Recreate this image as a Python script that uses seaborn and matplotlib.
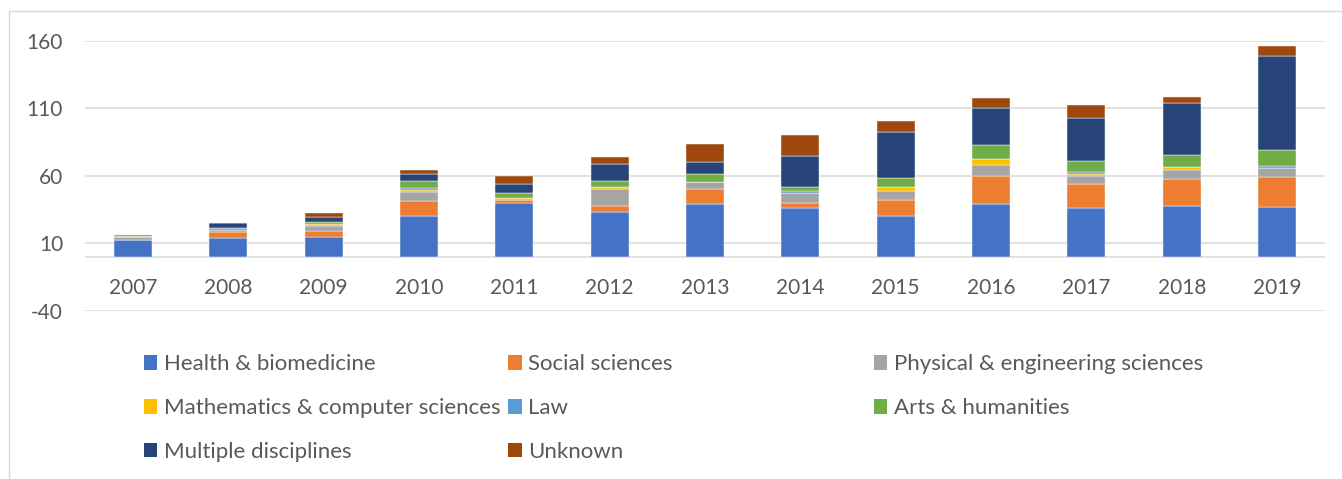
import pandas as pd
import numpy as np
import matplotlib
matplotlib.use("Agg")
import matplotlib.pyplot as plt
import seaborn as sns
from matplotlib.patches import Patch
from matplotlib.lines import Line2D

# values
years = [2007, 2008, 2009, 2010, 2011, 2012, 2013, 2014, 2015, 2016, 2017, 2018, 2019]
fields = ["Health & biomedicine", "Social sciences", "Physical & engineering sciences",
          "Mathematics & computer sciences", "Law", "Arts & humanities",
          "Multiple disciplines", "Unknown"]
health = [12, 14, 14.8, 29.8, 39.7, 33, 39, 36, 30.1, 39, 36.3, 37.8, 36.7]
social = [0, 4.4, 4, 11.2, 2.5, 4.8, 10.9, 4, 11.8, 20.8, 17.5, 20, 22.3]
physical = [2.5, 1.3, 3.7, 6.9, 0, 12.3, 5.2, 7.2, 7, 8.1, 6, 6.1, 7]
maths = [0, 0, 1.5, 1.7, 1, 1.3, 0, 0, 2.5, 4.3, 1.5, 2.2, 0]
law = [0, 1.3, 0, 1.5, 0, 0, 0, 1.2, 0, 0, 1.7, 0, 1]
arts = [0.8, 0, 1.8, 5, 3.7, 4.7, 6.2, 3.5, 6.7, 10.9, 7.9, 8.9, 12.4]
multiple = [0, 4, 3.9, 4.9, 7.2, 12.9, 8.9, 23, 33.9, 27.2, 31.9, 39.2, 69]
unknown = [0.7, 0, 3, 3, 5.9, 5.2, 13.1, 15.1, 8.4, 6.9, 9.2, 4, 7.9]
colors = ["#4472C4", "#ED7D31", "#A5A5A5", "#FFC000", "#5B9BD5", "#70AD47", "#264478", "#9E480E"]

series = [health, social, physical, maths, law, arts, multiple, unknown]
rows = []
for name, vals in zip(fields, series):
    for y, v in zip(years, vals):
        rows.append({"year": y, "field": name, "count": v})
df = pd.DataFrame(rows)
palette = dict(zip(fields, colors))

sns.set_style("white")
plt.rcParams["font.family"] = ["Lato", "DejaVu Sans"]
plt.rcParams["axes.unicode_minus"] = False
text_color = "#595959"
grid_color = "#D9D9D9"

W, H = 1342, 479
fig = plt.figure(figsize=(W / 100, H / 100), dpi=100)
ax = fig.add_axes([85.3 / W, 1 - 310.7 / H, (1324.7 - 85.3) / W, (310.7 - 40.7) / H])

# seaborn stacks the first hue level on top, so reverse the order
sns.histplot(data=df, x="year", weights="count", hue="field", hue_order=fields[::-1],
             palette=palette, multiple="stack", discrete=True, shrink=0.4,
             alpha=1, edgecolor="#F2F2F2", linewidth=0.35, legend=False, ax=ax, zorder=3)

ax.set_xlim(2006.5, 2019.5)
ax.set_ylim(-40, 160)
ax.set_yticks([-40, 10, 60, 110, 160])
ax.set_xticks(years)
ax.set_xticklabels([str(y) for y in years])
ax.set_xlabel("")
ax.set_ylabel("")
ax.grid(axis="y", color=grid_color, linewidth=1.1, zorder=0)
ax.grid(axis="x", visible=False)
ax.axhline(0, color=grid_color, linewidth=1.1, zorder=1)
for s in ax.spines.values():
    s.set_visible(False)
ax.spines["bottom"].set_position(("data", 0))
ax.tick_params(axis="x", length=0, pad=15.5, labelsize=15, labelcolor=text_color)
ax.tick_params(axis="y", length=0, pad=16, labelsize=15, labelcolor=text_color)

# legend laid out in fixed-width columns like the original
fs = 16
rows_y = 1 - 354.5 / H
col_x = [143.5 / W, 508 / W, 873.5 / W]
columns = [[0, 3, 6], [1, 4, 7], [2, 5]]
for cx, idxs in zip(col_x, columns):
    handles = [Patch(facecolor=colors[i], edgecolor="none") for i in idxs]
    labels = [fields[i] for i in idxs]
    fig.legend(handles, labels, loc="upper left", bbox_to_anchor=(cx, rows_y),
               frameon=False, fontsize=fs, handlelength=0.62, handleheight=0.62,
               handletextpad=0.28, labelspacing=1.07, borderpad=0, borderaxespad=0,
               labelcolor=text_color)

# outer chart border (left and top edges visible)
fig.add_artist(Line2D([9 / W, 9 / W], [0, 1 - 11 / H], transform=fig.transFigure,
                      color=grid_color, linewidth=1))
fig.add_artist(Line2D([9 / W, 1], [1 - 11 / H, 1 - 11 / H], transform=fig.transFigure,
                      color=grid_color, linewidth=1))

fig.savefig("out.png", dpi=100)
